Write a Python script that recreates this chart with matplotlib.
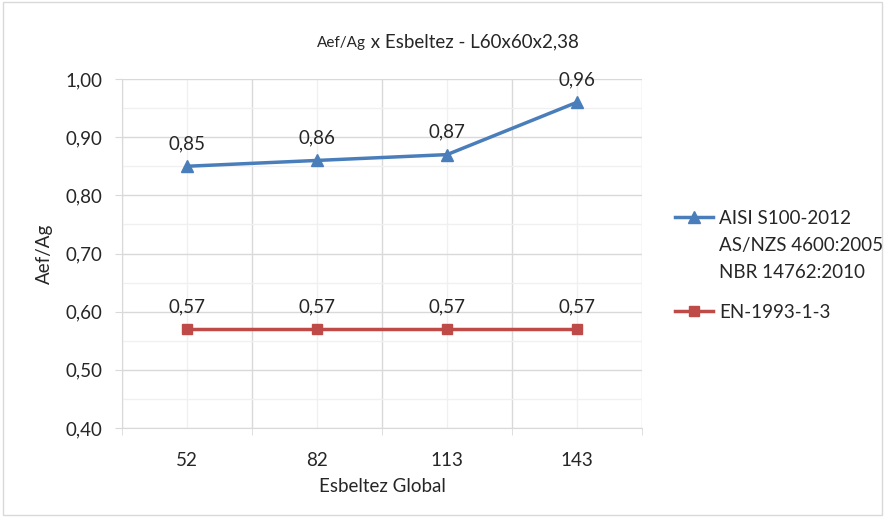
import matplotlib
matplotlib.use('Agg')
import matplotlib.pyplot as plt
from matplotlib.lines import Line2D
from matplotlib.ticker import MultipleLocator, FuncFormatter
from matplotlib.offsetbox import TextArea, HPacker, AnchoredOffsetbox

plt.rcParams['font.family'] = ['Lato', 'DejaVu Sans']

esbeltez = ['52', '82', '113', '143']
aisi = [0.85, 0.86, 0.87, 0.96]
en = [0.57, 0.57, 0.57, 0.57]
nome_aisi = 'AISI S100-2012\nAS/NZS 4600:2005\nNBR 14762:2010'
nome_en = 'EN-1993-1-3'

azul = '#4A7EBB'
vermelho = '#BE4B48'
cinza = '#D9D9D9'
texto = '#262626'
fs = 13.5

fig = plt.figure(figsize=(8.85, 5.17), dpi=100)
ax = fig.add_axes([0.1379, 0.1721, 0.5875, 0.6751])

x = list(range(len(esbeltez)))
ax.plot(x, aisi, color=azul, lw=2.5, marker='^', ms=8, label=nome_aisi)
ax.plot(x, en, color=vermelho, lw=2.5, marker='s', ms=7, label=nome_en)

for serie in (aisi, en):
    for xi, v in zip(x, serie):
        ax.annotate(f'{v:.2f}'.replace('.', ','), (xi, v), xytext=(0, 10),
                    textcoords='offset points', ha='center', va='bottom',
                    fontsize=fs, color=texto)

ax.set_xlim(-0.5, len(esbeltez) - 0.5)
ax.set_ylim(0.40, 1.00)
ax.set_xticks(x)
ax.set_xticklabels(esbeltez)
ax.set_xticks([i - 0.5 for i in range(len(esbeltez) + 1)], minor=True)
ax.yaxis.set_major_locator(MultipleLocator(0.1))
ax.yaxis.set_minor_locator(MultipleLocator(0.05))
ax.yaxis.set_major_formatter(FuncFormatter(lambda v, p: f'{v:.2f}'.replace('.', ',')))

ax.grid(True, which='major', axis='y', color=cinza, lw=1)
ax.grid(True, which='minor', axis='y', color='#F0F0F0', lw=1)
ax.grid(True, which='minor', axis='x', color=cinza, lw=1)
ax.grid(True, which='major', axis='x', color='#F0F0F0', lw=1)
ax.set_axisbelow(True)

for s in ('top', 'right'):
    ax.spines[s].set_visible(False)
for s in ('left', 'bottom'):
    ax.spines[s].set_color(cinza)
ax.tick_params(axis='x', which='major', length=0, pad=17, labelsize=fs, labelcolor=texto)
ax.tick_params(axis='x', which='minor', length=5, color=cinza)
ax.tick_params(axis='y', which='major', length=5, color=cinza, pad=9, labelsize=fs, labelcolor=texto)
ax.tick_params(axis='y', which='minor', length=0)

ax.set_xlabel('Esbeltez Global', fontsize=fs, color=texto, labelpad=7)
ax.set_ylabel('Aef/Ag', fontsize=fs, color=texto, labelpad=9)

# titulo com "Aef/Ag" em fonte menor
t1 = TextArea('Aef/Ag', textprops=dict(fontsize=11, color=texto))
t2 = TextArea(' x Esbeltez - L60x60x2,38', textprops=dict(fontsize=13.5, color=texto))
titulo = HPacker(children=[t1, t2], align='baseline', pad=0, sep=0)
caixa = AnchoredOffsetbox(loc='center', child=titulo, frameon=False,
                          bbox_to_anchor=(448 / 885, 1 - 42 / 517), bbox_transform=fig.transFigure,
                          borderpad=0, pad=0)
fig.add_artist(caixa)

# legenda desenhada a mao: o simbolo fica alinhado com a primeira linha do texto
W, H = 885, 517
for cor, mk, ms, nome, ypx in ((azul, '^', 8, nome_aisi, 217), (vermelho, 's', 7, nome_en, 311)):
    fig.add_artist(Line2D([675 / W, 713 / W], [1 - ypx / H] * 2, transform=fig.transFigure,
                          color=cor, lw=2.5))
    fig.add_artist(Line2D([694 / W], [1 - ypx / H], transform=fig.transFigure,
                          color=cor, marker=mk, ms=ms, lw=0))
    fig.text(719 / W, 1 - (ypx - 7) / H, nome, fontsize=fs, color=texto,
             ha='left', va='top', linespacing=1.7)

fig.add_artist(plt.Rectangle((0.003, 0.003), 0.994, 0.994, transform=fig.transFigure,
                             fill=False, edgecolor=cinza, lw=1))

fig.savefig('out.png', dpi=100)
